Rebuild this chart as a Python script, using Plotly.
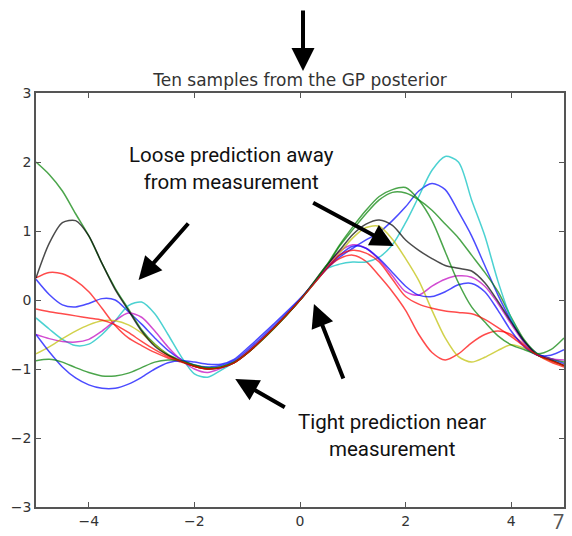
import plotly.graph_objects as go

# shared x grid
x_vals = [-5, -4.75, -4.5, -4.25, -4, -3.75, -3.5, -3.25, -3, -2.75, -2.5, -2.25, -2, -1.75, -1.5,
          -1.25, -1, -0.5, 0, 0.5, 0.75, 1, 1.25, 1.5, 1.75, 2, 2.25, 2.5, 2.75, 3, 3.25, 3.5,
          3.75, 4, 4.25, 4.5, 4.75, 5]

sample_blue1 = [0.3, 0.08, -0.07, -0.1, -0.05, 0.02, 0.0, -0.17, -0.35, -0.55, -0.73, -0.86, -0.94, -0.97, -0.95,
                -0.88, -0.73, -0.38, 0.0, 0.45, 0.62, 0.75, 0.87, 0.98, 1.15, 1.35, 1.58, 1.69, 1.6, 1.28, 0.93, 0.5,
                0.07, -0.3, -0.6, -0.78, -0.85, -0.92]
sample_green1 = [2.0, 1.82, 1.58, 1.25, 0.93, 0.53, 0.17, -0.13, -0.43, -0.64, -0.79, -0.88, -0.95, -0.99, -0.97,
                 -0.9, -0.77, -0.41, 0.0, 0.48, 0.78, 1.02, 1.25, 1.45, 1.56, 1.55, 1.45, 1.3, 1.1, 0.9, 0.65, 0.4,
                 0.12, -0.25, -0.58, -0.78, -0.85, -0.9]
sample_red1 = [0.32, 0.4, 0.38, 0.28, 0.12, -0.12, -0.37, -0.55, -0.66, -0.76, -0.84, -0.9, -0.96, -1.0, -0.98,
               -0.91, -0.77, -0.41, 0.0, 0.45, 0.6, 0.65, 0.56, 0.35, 0.12, -0.15, -0.5, -0.76, -0.87, -0.78, -0.62, -0.5,
               -0.45, -0.5, -0.65, -0.8, -0.9, -0.97]
sample_cyan = [-0.26, -0.42, -0.57, -0.66, -0.64, -0.5, -0.3, -0.08, -0.03, -0.2, -0.5, -0.82, -1.07, -1.12, -1.02,
               -0.9, -0.75, -0.4, 0.0, 0.45, 0.52, 0.55, 0.55, 0.62, 0.8, 1.12, 1.5, 1.88, 2.08, 2.0, 1.45, 0.93,
               0.27, -0.27, -0.62, -0.8, -0.87, -0.95]
sample_magenta = [-0.5, -0.56, -0.6, -0.61, -0.57, -0.45, -0.3, -0.19, -0.25, -0.45, -0.68, -0.87, -1.0, -1.05, -0.99,
                  -0.9, -0.75, -0.4, 0.0, 0.47, 0.7, 0.8, 0.75, 0.58, 0.35, 0.12, 0.07, 0.2, 0.3, 0.35, 0.33, 0.2,
                  -0.05, -0.35, -0.62, -0.8, -0.85, -0.87]
sample_yellow = [-0.78, -0.68, -0.56, -0.45, -0.36, -0.3, -0.3, -0.36, -0.48, -0.65, -0.8, -0.89, -0.96, -1.0, -0.98,
                 -0.91, -0.77, -0.41, 0.0, 0.45, 0.68, 0.9, 1.05, 1.07, 0.88, 0.6, 0.28, -0.15, -0.55, -0.82, -0.9, -0.83,
                 -0.73, -0.65, -0.7, -0.8, -0.88, -0.95]
sample_black = [0.32, 0.82, 1.12, 1.15, 0.93, 0.53, 0.15, -0.15, -0.45, -0.67, -0.8, -0.89, -0.96, -1.0, -0.98,
                -0.91, -0.77, -0.41, 0.0, 0.5, 0.72, 0.95, 1.1, 1.16, 1.08, 0.87, 0.72, 0.6, 0.5, 0.46, 0.42, 0.25,
                -0.02, -0.32, -0.6, -0.8, -0.87, -0.95]
sample_blue2 = [-0.5, -0.75, -0.97, -1.13, -1.23, -1.28, -1.28, -1.22, -1.12, -1.0, -0.91, -0.88, -0.9, -0.93, -0.93,
                -0.86, -0.7, -0.35, 0.02, 0.45, 0.65, 0.78, 0.75, 0.6, 0.4, 0.2, 0.07, 0.05, 0.12, 0.22, 0.24, 0.12,
                -0.15, -0.45, -0.68, -0.8, -0.8, -0.72]
sample_green2 = [-0.88, -0.86, -0.9, -0.98, -1.05, -1.1, -1.1, -1.06, -0.98, -0.9, -0.87, -0.88, -0.94, -0.98, -0.97,
                 -0.9, -0.77, -0.42, 0.0, 0.5, 0.8, 1.06, 1.3, 1.5, 1.6, 1.63, 1.45, 1.15, 0.7, 0.25, -0.1, -0.32,
                 -0.52, -0.65, -0.72, -0.78, -0.72, -0.55]
sample_red2 = [-0.13, -0.17, -0.2, -0.23, -0.26, -0.29, -0.36, -0.47, -0.6, -0.72, -0.82, -0.89, -0.96, -1.0, -0.98,
               -0.91, -0.77, -0.41, 0.0, 0.45, 0.65, 0.72, 0.68, 0.55, 0.3, 0.05, -0.06, -0.12, -0.16, -0.18, -0.2, -0.28,
               -0.4, -0.53, -0.67, -0.8, -0.88, -0.95]

samples = [sample_blue1, sample_green1, sample_red1, sample_cyan, sample_magenta,
           sample_yellow, sample_black, sample_blue2, sample_green2, sample_red2]
colors = ["#0000ff", "#008000", "#ff0000", "#00bfbf", "#bf00bf",
          "#bfbf00", "#000000", "#0000ff", "#008000", "#ff0000"]

x_ticks = [-4, -2, 0, 2, 4]
y_ticks = [-3, -2, -1, 0, 1, 2, 3]

fig = go.Figure()
for ys, col in zip(samples, colors):
    fig.add_trace(go.Scatter(x=x_vals, y=ys, mode="lines",
                             line=dict(color=col, width=1.5, shape="spline", smoothing=0.8),
                             opacity=0.7, showlegend=False, hoverinfo="skip"))

axis_common = dict(showgrid=False, zeroline=False, showline=True, linecolor="#555555", linewidth=1.5,
                   mirror="allticks", ticks="inside", ticklen=5, tickwidth=1, tickcolor="#555555",
                   tickfont=dict(family="DejaVu Sans", size=14, color="#333333"))

fig.update_xaxes(range=[-5, 5], tickvals=x_ticks, **axis_common)
fig.update_yaxes(range=[-3, 3], tickvals=y_ticks, **axis_common)

ann_font = dict(family="Roboto", size=20.5, color="#111111")
arrow_style = dict(showarrow=True, arrowhead=2, arrowsize=1.15, arrowwidth=4, arrowcolor="#000000",
                   xref="paper", yref="paper", axref="pixel", ayref="pixel", text="")

annotations = [
    dict(x=0.5057, y=1.0531, ax=0, ay=-62, **arrow_style),
    dict(x=0.1943, y=0.5483, ax=51, ay=-58, **arrow_style),
    dict(x=0.6774, y=0.6304, ax=-82, ay=-44, **arrow_style),
    dict(x=0.5264, y=0.4903, ax=30, ay=76, **arrow_style),
    dict(x=0.3774, y=0.3092, ax=51, ay=29, **arrow_style),
    dict(x=0.3698, y=0.8188, xref="paper", yref="paper", showarrow=False,
         xanchor="center", yanchor="middle",
         text="Loose prediction away<br>from measurement", font=ann_font, align="center"),
    dict(x=0.6745, y=0.1739, xref="paper", yref="paper", showarrow=False,
         xanchor="center", yanchor="middle",
         text="Tight prediction near<br>measurement", font=ann_font, align="center"),
    dict(x=0.9895, y=-0.036, xref="paper", yref="paper", showarrow=False,
         xanchor="center", yanchor="middle",
         text="7", font=dict(family="Roboto", size=20, color="#555555")),
]

fig.update_layout(
    width=572, height=536,
    margin=dict(l=36, r=6, t=93, b=29),
    paper_bgcolor="white", plot_bgcolor="white",
    title=dict(text="Ten samples from the GP posterior", x=0.5, xref="paper",
               y=1 - 80 / 536, yref="container", yanchor="middle", xanchor="center",
               font=dict(family="DejaVu Sans", size=17, color="#333333")),
    annotations=annotations,
)

fig.write_html("out.html")
